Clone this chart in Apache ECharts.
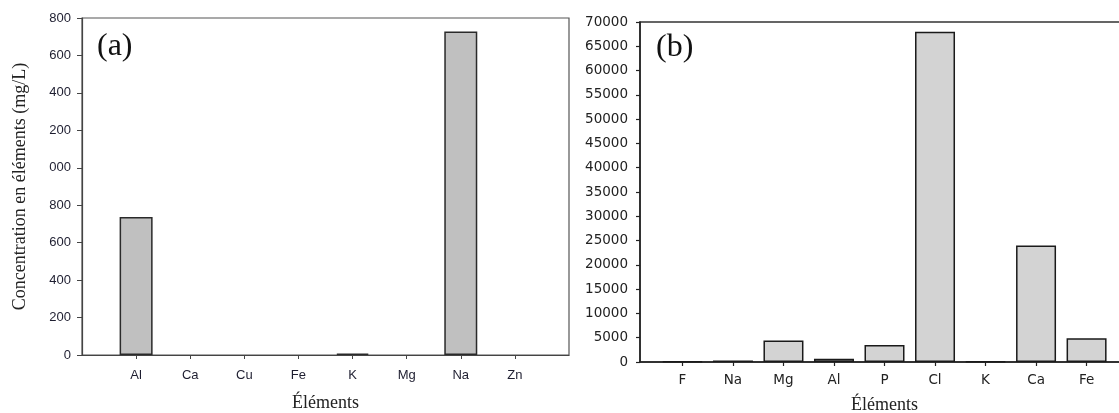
<!DOCTYPE html>
<html>
<head>
<meta charset="utf-8">
<script src="https://cdn.jsdelivr.net/npm/echarts@6/dist/echarts.min.js"></script>
<style>
  html, body { margin: 0; padding: 0; background: #fff; }
  #chart { width: 1119px; height: 413px; }
</style>
</head>
<body>
<div id="chart"></div>
<script>
// Panel (a): element concentrations, mg/L
const elementsA = ['Al', 'Ca', 'Cu', 'Fe', 'K', 'Mg', 'Na', 'Zn'];
const valuesA = [737, 0, 0, 0, 8, 0, 1728, 0];
const tickLabelsA = ['0', '200', '400', '600', '800', '000', '200', '400', '600', '800'];

// Panel (b): element concentrations
const elementsB = ['F', 'Na', 'Mg', 'Al', 'P', 'Cl', 'K', 'Ca', 'Fe'];
const valuesB = [120, 330, 4450, 680, 3500, 68000, 100, 24000, 4900];

const serif = '"Liberation Serif", "Times New Roman", serif';
const sansA = '"Liberation Sans", Arial, sans-serif';
const sansB = '"DejaVu Sans", sans-serif';

// zero-height bars get no outline so they stay invisible
const barItems = (vals) => vals.map((v, i) => ({
  value: [i, v],
  itemStyle: v === 0 ? { borderWidth: 0 } : undefined
}));

const chart = echarts.init(document.getElementById('chart'), null, { renderer: 'canvas' });

chart.setOption({
  animation: false,
  backgroundColor: '#ffffff',
  grid: [
    { left: 82, top: 18, width: 487, bottom: 58, outerBoundsMode: 'none',
      show: true, borderColor: '#555', borderWidth: 1.2 },
    { left: 640, top: 22, width: 489, bottom: 51, outerBoundsMode: 'none',
      show: true, borderColor: '#333', borderWidth: 1.5 }
  ],
  xAxis: [
    {
      gridIndex: 0, type: 'value', min: -1, max: 8,
      splitLine: { show: false },
      axisLine: { onZero: false, lineStyle: { color: '#444', width: 1.2 } },
      axisTick: { customValues: elementsA.map((_, i) => i), length: 4, lineStyle: { color: '#444' } },
      axisLabel: {
        customValues: elementsA.map((_, i) => i),
        formatter: v => elementsA[v] || '',
        fontFamily: sansA, fontSize: 13, color: '#1e1e30', margin: 14
      },
      name: 'Éléments', nameLocation: 'middle', nameGap: 39,
      nameTextStyle: { fontFamily: serif, fontSize: 18, color: '#222' }
    },
    {
      gridIndex: 1, type: 'value', min: -0.84, max: 8.84,
      splitLine: { show: false },
      axisLine: { onZero: false, lineStyle: { color: '#222', width: 1.5 } },
      axisTick: { customValues: elementsB.map((_, i) => i), length: 4, lineStyle: { color: '#222', width: 1.2 } },
      axisLabel: {
        customValues: elementsB.map((_, i) => i),
        formatter: v => elementsB[v] || '',
        fontFamily: sansB, fontSize: 13.5, color: '#222', margin: 11
      },
      name: 'Éléments', nameLocation: 'middle', nameGap: 34,
      nameTextStyle: { fontFamily: serif, fontSize: 18, color: '#222' }
    }
  ],
  yAxis: [
    {
      gridIndex: 0, type: 'value', min: 0, max: 1800, interval: 200,
      splitLine: { show: false },
      axisLine: { show: true, onZero: false, lineStyle: { color: '#444', width: 1.2 } },
      axisTick: { show: true, length: 5, lineStyle: { color: '#444' } },
      axisLabel: {
        formatter: v => tickLabelsA[Math.round(v / 200)],
        fontFamily: sansA, fontSize: 13, color: '#1e1e30', margin: 11
      },
      name: 'Concentration en éléments (mg/L)', nameLocation: 'middle', nameGap: 53,
      nameTextStyle: { fontFamily: serif, fontSize: 18, color: '#222' }
    },
    {
      gridIndex: 1, type: 'value', min: 0, max: 70000, interval: 5000,
      splitLine: { show: false },
      axisLine: { show: true, onZero: false, lineStyle: { color: '#222', width: 1.5 } },
      axisTick: { show: true, length: 4, lineStyle: { color: '#222', width: 1.2 } },
      axisLabel: { formatter: v => String(v), fontFamily: sansB, fontSize: 13.5, color: '#222', margin: 12 }
    }
  ],
  series: [
    {
      type: 'bar', xAxisIndex: 0, yAxisIndex: 0, barWidth: 33,
      data: barItems(valuesA),
      itemStyle: { color: '#c0c0c0', borderColor: '#2a2a2a', borderWidth: 1.5 }
    },
    {
      type: 'bar', xAxisIndex: 1, yAxisIndex: 1, barWidth: 40,
      data: barItems(valuesB),
      itemStyle: { color: '#d3d3d3', borderColor: '#1a1a1a', borderWidth: 1.5 }
    }
  ],
  graphic: [
    { type: 'text', left: 97, top: 31, style: { text: '(a)', font: '32px ' + serif, fill: '#111' } },
    { type: 'text', left: 656, top: 32, style: { text: '(b)', font: '32px ' + serif, fill: '#111' } }
  ]
});
</script>
</body>
</html>
